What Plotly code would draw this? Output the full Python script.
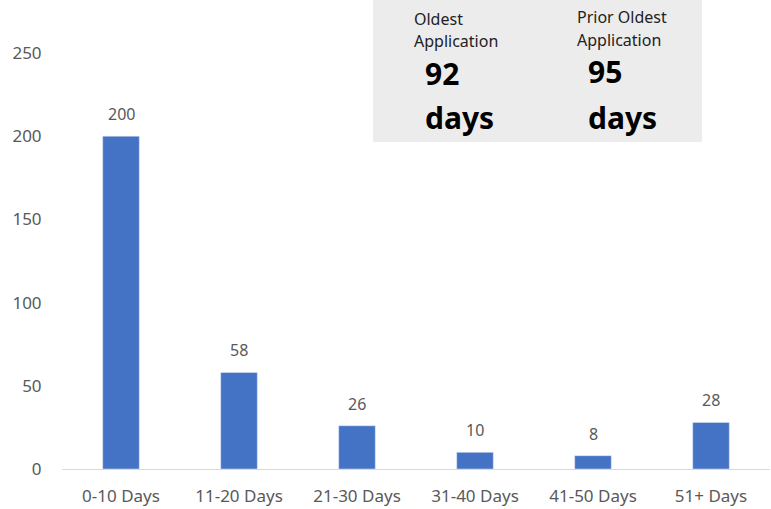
import plotly.graph_objects as go

# Data
categories = ['0-10 Days', '11-20 Days', '21-30 Days', '31-40 Days', '41-50 Days', '51+ Days']
counts = [200, 58, 26, 10, 8, 28]
y_ticks = [0, 50, 100, 150, 200, 250]

oldest_label = ['Oldest', 'Application']
oldest_value = ['92', 'days']
prior_label = ['Prior Oldest', 'Application']
prior_value = ['95', 'days']

COLORS = {
    'bar': '#4472c4',
    'text': '#595959',
    'axis': '#d9d9d9',
    'box': '#ececec',
    'big': '#000000',
}
FONT = "Noto Sans"

# plot area in pixels, used to place the info box
L, R, T, B = 62, 1, 53, 40
W, H = 771, 509
PW, PH = W - L - R, H - T - B


def px(x):
    return (x - L) / PW


def py(y):
    return (H - B - y) / PH


fig = go.Figure()
fig.add_trace(go.Bar(
    x=categories,
    y=counts,
    marker=dict(color=COLORS['bar']),
    hoverinfo='skip',
))

# grey info box
fig.add_shape(type='rect', xref='paper', yref='paper',
              x0=px(373), x1=px(702), y0=py(142), y1=py(0),
              fillcolor=COLORS['box'], line=dict(width=0), layer='below')

annotations = []

# value labels above the bars
for cat, val in zip(categories, counts):
    annotations.append(dict(text=str(val), x=cat, y=val, xref='x', yref='y',
                            yanchor='middle', yshift=22, showarrow=False,
                            font=dict(family=FONT, size=16, color=COLORS['text'])))


def small(text, x, y):
    annotations.append(dict(text=text, xref='paper', yref='paper', x=px(x), y=py(y),
                            xanchor='left', yanchor='middle', showarrow=False,
                            font=dict(family=FONT, size=16, color='#222222')))


def big(text, x, y):
    annotations.append(dict(text='<b>' + text + '</b>', xref='paper', yref='paper', x=px(x), y=py(y),
                            xanchor='left', yanchor='middle', showarrow=False,
                            font=dict(family=FONT, size=30, color=COLORS['big'])))


small(oldest_label[0], 412, 19)
small(oldest_label[1], 412, 41)
big(oldest_value[0], 423, 73)
big(oldest_value[1], 423, 117)
small(prior_label[0], 575, 17)
small(prior_label[1], 575, 40)
big(prior_value[0], 586, 72)
big(prior_value[1], 586, 117)

fig.update_layout(
    width=W, height=H,
    margin=dict(l=L, r=R, t=T, b=B),
    plot_bgcolor='white',
    paper_bgcolor='white',
    showlegend=False,
    bargap=0.69,
    annotations=annotations,
    font=dict(family=FONT, size=17, color=COLORS['text']),
)
fig.update_xaxes(showline=True, linecolor=COLORS['axis'], linewidth=1,
                 showgrid=False, ticks='outside', ticklen=12, tickcolor='rgba(0,0,0,0)',
                 tickfont=dict(family=FONT, size=17, color=COLORS['text']))
fig.update_yaxes(range=[0, 250], tickvals=y_ticks, showgrid=False, zeroline=False,
                 showline=False, ticks='outside', ticklen=16, tickcolor='rgba(0,0,0,0)',
                 tickfont=dict(family=FONT, size=17, color=COLORS['text']))

# page body has a default 8px margin; remove it so the figure sits at 0,0
fig.write_html("out.html", config={'displayModeBar': False},
               post_script="document.body.style.margin='0';")
